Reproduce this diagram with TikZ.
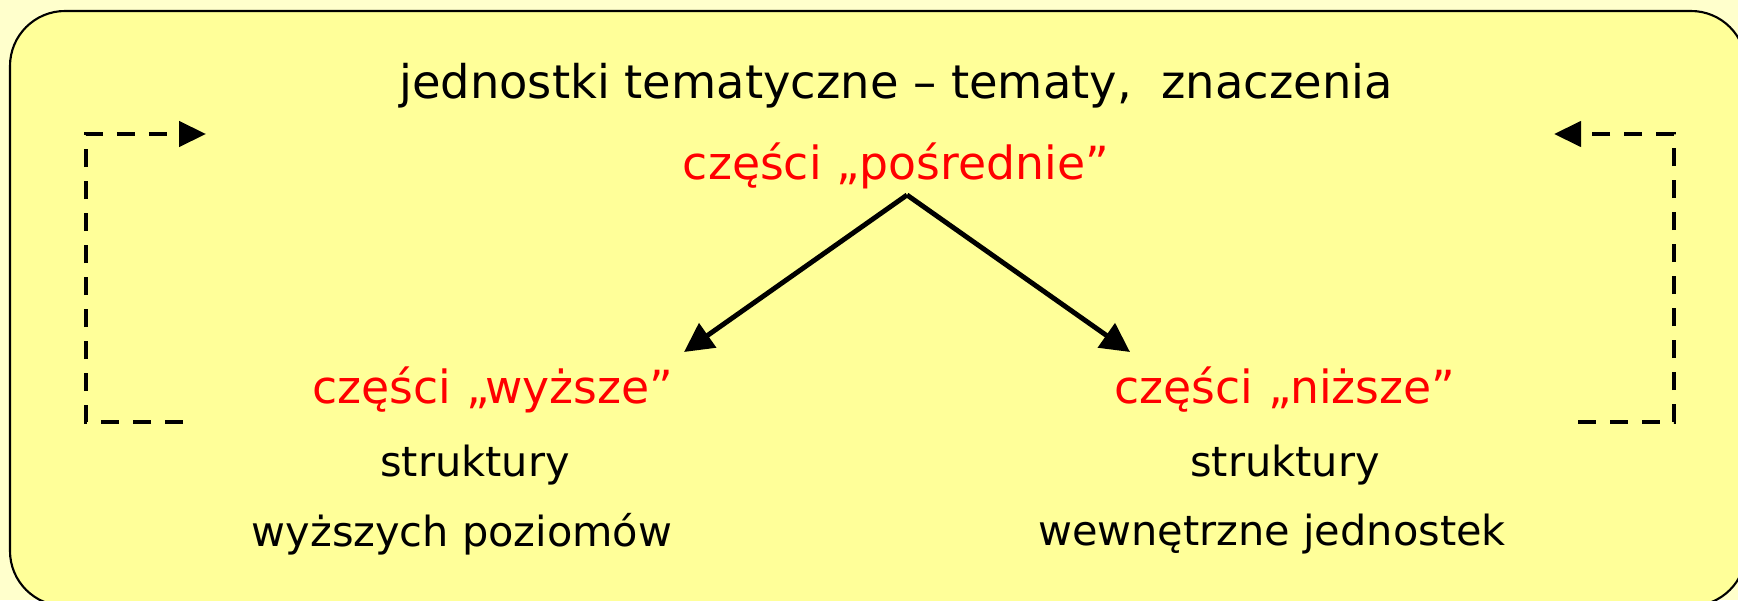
\documentclass[tikz,border=0pt]{standalone}
\usepackage{fontspec}
\setmainfont{DejaVu Sans}
\usetikzlibrary{arrows.meta}

\definecolor{pale}{RGB}{255,255,204}
\definecolor{pad}{RGB}{255,255,153}

\def\dash{0.18cm}
\def\gap{0.14cm}
\def\xl{0.86}
\def\xr{16.74}
\def\yt{4.66}
\def\yb{1.78}

\tikzset{
  txt/.style={inner sep=0pt, font=\fontsize{13.2}{15}\selectfont},
  red txt/.style={txt, text=red, font=\fontsize{13}{15}\selectfont},
  small txt/.style={txt, font=\fontsize{11.8}{14}\selectfont},
  back/.style={line width=1.25pt, dash pattern=on \dash off \gap,
               -{Triangle[length=0.27cm, width=0.25cm]}},
  down/.style={line width=1.4pt, -{Triangle[length=0.29cm, width=0.29cm]}}
}

\begin{document}
\begin{tikzpicture}
 \useasboundingbox (0,0) rectangle (17.38,6);
 \clip (0,0) rectangle (17.38,6);
 \fill[pale] (0,0) rectangle (17.38,6);
 \draw[fill=pad, line width=0.6pt, rounded corners=0.55cm] (0.10,-0.06) rectangle (17.46,5.89);

 \node[txt] (title) at (8.96,5.14) {jednostki tematyczne – tematy,\ \ znaczenia};
 \node[red txt] (mid) at (8.96,4.34) {części „pośrednie”};

 \node[red txt] (up) at (4.93,2.10) {części „wyższe”};
 \node[small txt] (upa) at (4.75,1.35) {struktury};
 \node[small txt] (upb) at (4.62,0.66) {wyższych poziomów};

 \node[red txt] (low) at (12.85,2.10) {części „niższe”};
 \node[small txt] (lowa) at (12.85,1.35) {struktury};
 \node[small txt] (lowb) at (12.72,0.66) {wewnętrzne jednostek};

 \coordinate (apex) at (9.07,4.05);
 \coordinate (uptip) at (6.84,2.48);
 \coordinate (lowtip) at (11.30,2.48);
 \draw[down] (apex) -- (uptip);
 \draw[down] (apex) -- (lowtip);

 % petle zwrotne
 \coordinate (lb) at (1.83,\yb);
 \coordinate (lt) at (2.06,\yt);
 \coordinate (rb) at (15.78,\yb);
 \coordinate (rt) at (15.54,\yt);
 \draw[back] (lb) -- (\xl,\yb) -- (\xl,\yt) -- (lt);
 \draw[back] (rb) -- (\xr,\yb) -- (\xr,\yt) -- (rt);
\end{tikzpicture}
\end{document}
